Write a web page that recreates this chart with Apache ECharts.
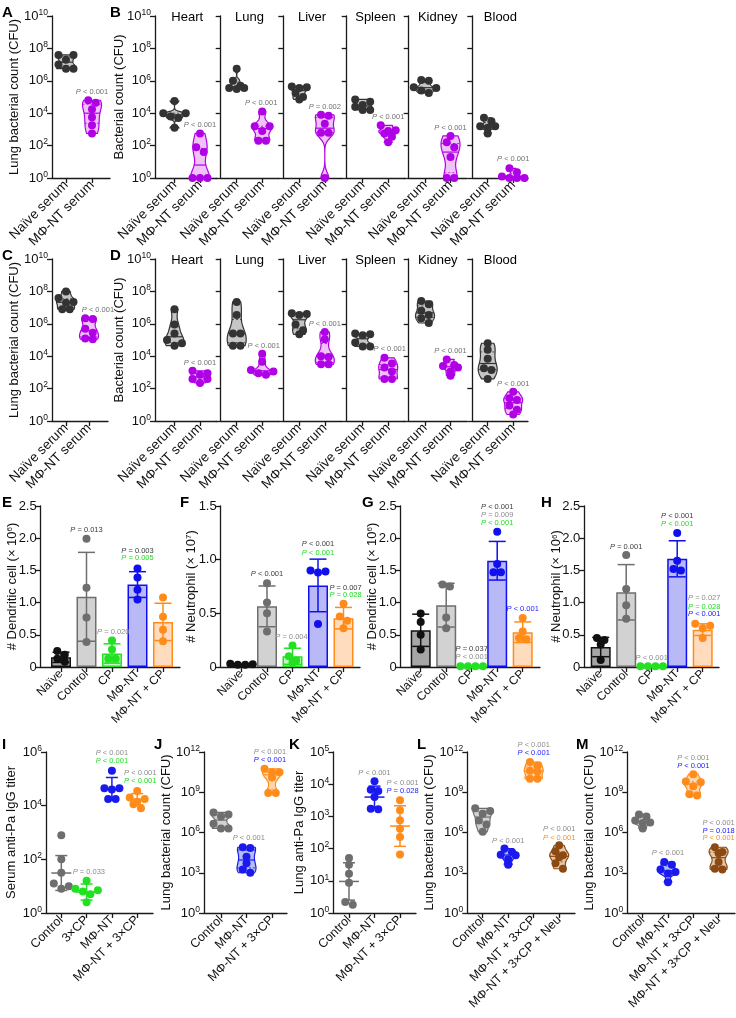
<!DOCTYPE html>
<html><head><meta charset="utf-8">
<script src="https://cdn.jsdelivr.net/npm/echarts@6/dist/echarts.min.js"></script>
<style>html,body{margin:0;padding:0;background:#fff}#c{width:736px;height:1018px}</style>
</head><body><div id="c"></div>
<script>
// ---------------- DATA (CFU / titer values as log10 exponents) ----------------
const organs = ['Heart','Lung','Liver','Spleen','Kidney','Blood'];
const serumCats = ['Naïve serum','MΦ-NT serum'];
const A_naive = [7.6, 7.6, 7.3, 7.0, 6.75, 6.75];
const A_mnt = [4.8, 4.65, 4.25, 3.75, 3.25, 2.75];
const B_naive = [
  [4.75, 4.0, 4.0, 3.8, 3.7, 3.1],
  [6.75, 6.0, 5.7, 5.55, 5.55, 5.5],
  [5.65, 5.6, 5.55, 5.25, 5.0, 4.85],
  [4.85, 4.7, 4.5, 4.4, 4.2, 4.2],
  [6.05, 6.0, 5.6, 5.55, 5.4, 5.25],
  [3.72, 3.5, 3.2, 3.2, 3.1, 2.75]
];
const B_mnt = [
  [2.75, 1.9, 1.6, 0, 0, 0],
  [4.1, 3.2, 3.2, 2.9, 2.3, 2.3],
  [3.9, 3.85, 3.35, 2.8, 2.8, 0],
  [3.25, 2.95, 2.9, 2.75, 2.55, 2.2],
  [2.6, 2.2, 1.9, 1.3, 0, 0],
  [0.6, 0.35, 0.1, 0, 0, 0]
];
const C_naive = [8.0, 7.6, 7.35, 7.3, 6.9, 6.9];
const C_mnt = [6.35, 6.3, 5.7, 5.45, 5.1, 5.05];
const D_naive = [
  [6.9, 5.95, 5.4, 5.0, 4.8, 4.65],
  [7.35, 6.55, 5.4, 5.4, 4.65, 4.65],
  [6.65, 6.6, 6.55, 5.95, 5.6, 5.35],
  [5.4, 5.35, 5.3, 4.85, 4.6, 4.6],
  [7.4, 7.2, 6.8, 6.55, 6.35, 6.05],
  [4.8, 4.4, 3.85, 3.25, 3.15, 2.6]
];
const D_mnt = [
  [3.1, 2.95, 2.85, 2.6, 2.6, 2.35],
  [4.15, 3.65, 3.15, 3.05, 2.95, 2.85],
  [5.5, 5.05, 4.0, 3.95, 3.5, 3.5],
  [3.9, 3.55, 3.3, 3.05, 2.6, 2.6],
  [3.8, 3.45, 3.4, 3.3, 3.05, 2.8],
  [1.8, 1.4, 1.3, 0.95, 0.7, 0.4]
];
const barCats = ['Naïve','Control','CP','MΦ-NT','MΦ-NT + CP'];
const E_mean = [0.15, 1.09, 0.21, 1.28, 0.70];
const E_sd = [0.08, 0.69, 0.15, 0.20, 0.29];
const E_pts = [[0.25,0.19,0.13,0.08],[1.99,1.23,0.77,0.39],[0.41,0.27,0.13,0.13],[1.53,1.39,1.2,1.05],[1.08,0.78,0.58,0.40]];
const F_mean = [0.02, 0.565, 0.10, 0.76, 0.455];
const F_sd = [0.005, 0.19, 0.075, 0.245, 0.1];
const F_pts = [[0.03,0.025,0.02,0.02],[0.78,0.6,0.5,0.33],[0.2,0.1,0.06,0.04],[0.9,0.89,0.88,0.4],[0.59,0.47,0.43,0.36]];
const G_mean = [0.57, 0.96, 0.01, 1.65, 0.54];
const G_sd = [0.25, 0.34, 0.005, 0.30, 0.16];
const G_pts = [[0.83,0.7,0.5,0.27],[1.28,1.25,0.77,0.6],[0.01,0.01,0.01,0.01],[2.1,1.6,1.47,1.47],[0.76,0.55,0.45,0.43]];
const H_mean = [0.31, 1.16, 0.01, 1.68, 0.58];
const H_sd = [0.15, 0.43, 0.005, 0.28, 0.09];
const H_pts = [[0.45,0.42,0.35,0.11],[1.74,1.21,0.96,0.75],[0.01,0.01,0.01,0.01],[2.08,1.65,1.52,1.5],[0.67,0.64,0.6,0.45]];
const I_cats = ['Control','3×CP','MΦ-NT','MΦ-NT + 3×CP'];
const I_vals = [[2.9,2.0,1.5,1.1,1.0,0.9],[1.2,0.9,0.85,0.8,0.7,0.4],[5.3,4.65,4.65,4.6,4.25,4.25],[4.55,4.3,4.25,4.15,4.05,3.9]];
const I_mean = [1.49, 0.78, 4.63, 4.24];
const I_sd = [0.65, 0.30, 0.42, 0.21];
const JK_cats = ['Control','MΦ-NT','MΦ-NT + 3×CP'];
const J_vals = [[7.5,7.35,7.2,6.65,6.3,6.3],[4.9,4.85,4.2,3.7,3.25,3.0],[10.75,10.5,10.5,10.1,8.95,8.95]];
const K_vals = [[1.71,1.5,1.22,0.94,0.34,0.26],[4.09,3.83,3.79,3.6,3.24,3.22],[3.5,3.19,2.88,2.62,2.36,1.82]];
const K_mean = [0.98, 3.6, 2.7];
const K_sd = [0.58, 0.34, 0.63];
const LM_cats = ['Control','MΦ-NT','MΦ-NT + 3×CP','MΦ-NT + 3×CP + Neu'];
const L_vals = [[7.8,7.6,7.4,6.9,6.6,6.05],[4.8,4.55,4.35,4.3,4.0,3.6],[11.25,11.0,10.6,10.55,10.0,10.0],[5.05,4.6,4.3,4.15,3.7,3.3]];
const M_vals = [[7.35,7.2,6.9,6.75,6.7,6.3],[3.8,3.6,3.25,3.05,2.95,2.3],[10.35,9.8,9.75,9.45,8.85,8.75],[4.9,4.55,4.45,3.8,3.3,3.25]];

// ---------------- STYLE ----------------
const FONT = '"Liberation Sans", Arial, Helvetica, sans-serif';
const AX = '#1a1a1a';
const PG = '#707070', PDARK = '#3a3a3a', PGRAY = '#8c8c8c', PGREEN = '#22dd22', PBLUE = '#1a1aff', PORANGE = '#ff8c1a';
const VNAIVE = {color:'#333333', fill:'#c6c6c6'};
const VMNT = {color:'#b000e6', fill:'#f0c2f7'};
const VCTRL = {color:'#6e6e6e', fill:'#d2d2d2'};
const VBLUE = {color:'#1a1aee', fill:'#b5bdf4'};
const VORANGE = {color:'#ff8c1a', fill:'#ffd7ae'};
const VBROWN = {color:'#8c4a12', fill:'#e3c7aa'};
const VGREEN = {color:'#22e022', fill:'#c4f5be'};
const BARC = [{color:'#111111', fill:'#a6a6a6'}, VCTRL, VGREEN, {color:'#1010ee', fill:'#b9b9f7'}, {color:'#ff8c1a', fill:'#ffdcbd'}];

const grids = [], xAxes = [], yAxes = [], series = [], graphic = [];
const logRich = {b:{fontSize:13, fontFamily:FONT, color:'#111', lineHeight:16}, s:{fontSize:8.5, fontFamily:FONT, color:'#111', verticalAlign:'top', lineHeight:9}};
function logFmt(v){ return '{b|10}{s|' + Math.round(v) + '}'; }
function linFmt(v){ return v === 0 ? '0' : v.toFixed(1); }

function panel(o){
  const gi = grids.length;
  grids.push({left:o.left, top:o.top, width:o.right - o.left, height:o.height});
  const idxs = o.cats.map((_, i) => i);
  xAxes.push({gridIndex:gi, type:'value', min:(o.left - o.c0) / o.step, max:(o.right - o.c0) / o.step,
    axisLine:{show:true, onZero:false, lineStyle:{color:AX, width:1.3}},
    axisTick:{show:true, customValues:idxs, length:5, lineStyle:{color:AX, width:1.3}},
    axisLabel:{show:true, customValues:idxs, hideOverlap:false,
      formatter:(v) => o.cats[Math.round(v)], rotate:45, fontSize:o.xfs || 12, fontFamily:FONT, color:'#111', margin:5},
    splitLine:{show:false}});
  const y = {gridIndex:gi, type:'value', min:o.ymin, max:o.ymax, interval:o.yint,
    axisLine:{show:true, onZero:false, lineStyle:{color:AX, width:1.3}},
    axisTick:{show:true, length:5, lineStyle:{color:AX, width:1.3}},
    axisLabel:{show:o.ylabels !== false, fontSize:13, fontFamily:FONT, color:'#111', margin:4, showMinLabel:true, showMaxLabel:true,
      formatter:o.log ? logFmt : linFmt, rich:o.log ? logRich : undefined},
    splitLine:{show:false}};
  if (o.name) {
    Object.assign(y, {name:o.name, nameLocation:'middle', nameRotate:90, nameGap:o.nameGap, nameMoveOverlap:false,
      nameTextStyle:{fontSize:13, fontFamily:FONT, color:'#111', rich:{s:{fontSize:8, fontFamily:FONT, color:'#111', verticalAlign:'top'}}}});
  }
  yAxes.push(y);
  return gi;
}

function quantile(s, p){ const pos = (s.length - 1) * p; const lo = Math.floor(pos), hi = Math.ceil(pos); return s[lo] + (s[hi] - s[lo]) * (pos - lo); }
function offsetsFor(n){
  return [[0],[-0.5,0.5],[-1,1,0],[-1.5,1.5,-0.5,0.5],[-2,2,-1,1,0],[-2.5,2.5,-1.5,1.5,-0.5,0.5]][n - 1];
}
function swarm(vals, api, xi){
  const s = 7.5, thr = 6;
  const pts = vals.map(v => ({v:v, p:api.coord([xi, v])})).sort((a, b) => b.v - a.v);
  const rows = []; let cur = null;
  for (const q of pts) { if (cur && Math.abs(q.p[1] - cur[0].p[1]) < thr) cur.push(q); else { cur = [q]; rows.push(cur); } }
  const out = [];
  rows.forEach(r => { const off = offsetsFor(r.length); r.forEach((q, k) => out.push([q.p[0] + off[k] * s, q.p[1]])); });
  return out;
}
function kde(vals, y, h){ let s = 0; for (const v of vals) { const z = (y - v) / h; s += Math.exp(-0.5 * z * z); } return s; }
function violinShape(vals, api, xi, halfW){
  const n = vals.length, mn = Math.min(...vals), mx = Math.max(...vals);
  const mean = vals.reduce((a, b) => a + b, 0) / n;
  const sd = Math.sqrt(vals.reduce((a, b) => a + (b - mean) * (b - mean), 0) / (n - 1));
  const srt = [...vals].sort((a, b) => a - b);
  const iqr = quantile(srt, 0.75) - quantile(srt, 0.25);
  const spread = iqr > 0 ? Math.min(sd, iqr / 1.34) : sd;
  const h = Math.max(0.8 * 0.9 * spread * Math.pow(n, -0.2), 0.08);
  const N = 48, ys = [], ds = [];
  for (let k = 0; k <= N; k++) { const y = mn + (mx - mn) * k / N; ys.push(y); ds.push(kde(vals, y, h)); }
  const dmax = Math.max(...ds);
  const L = [], R = [];
  ys.forEach((y, k) => { const p = api.coord([xi, y]); const w = halfW * ds[k] / dmax; L.push([p[0] - w, p[1]]); R.push([p[0] + w, p[1]]); });
  return {points:L.concat(R.reverse()), widthAt:(y) => halfW * kde(vals, y, h) / dmax};
}

function violins(gi, groups){
  series.push({type:'custom', xAxisIndex:gi, yAxisIndex:gi, clip:false, silent:true, z:3,
    data:groups.map((g, i) => [i, g.vals[0]]), encode:{x:0, y:1},
    renderItem:(params, api) => {
      const xi = params.dataIndex, g = groups[xi], ch = [];
      const vs = violinShape(g.vals, api, xi, 9.5);
      ch.push({type:'polygon', shape:{points:vs.points}, style:{fill:g.fill, stroke:g.color, lineWidth:1.2}});
      const srt = [...g.vals].sort((a, b) => a - b);
      [[0.25, true], [0.5, false], [0.75, true]].forEach(([p, dash]) => {
        const v = quantile(srt, p), c = api.coord([xi, v]), w = vs.widthAt(v);
        ch.push({type:'line', shape:{x1:c[0] - w, y1:c[1], x2:c[0] + w, y2:c[1]},
          style:{stroke:g.color, lineWidth:dash ? 0.8 : 1.2, lineDash:dash ? [2, 2] : null}});
      });
      swarm(g.vals, api, xi).forEach(p => ch.push({type:'circle', shape:{cx:p[0], cy:p[1], r:4}, style:{fill:g.color}}));
      return {type:'group', children:ch};
    }});
}

function dots(gi, groups, means, sds){
  series.push({type:'custom', xAxisIndex:gi, yAxisIndex:gi, clip:false, silent:true, z:3,
    data:groups.map((g, i) => [i, means[i]]), encode:{x:0, y:1},
    renderItem:(params, api) => {
      const xi = params.dataIndex, g = groups[xi], ch = [];
      swarm(g.vals, api, xi).forEach(p => ch.push({type:'circle', shape:{cx:p[0], cy:p[1], r:4}, style:{fill:g.color}}));
      const m = api.coord([xi, means[xi]]), hi = api.coord([xi, means[xi] + sds[xi]]), lo = api.coord([xi, means[xi] - sds[xi]]);
      const st = {stroke:g.color, lineWidth:1.5};
      ch.push({type:'line', shape:{x1:m[0] - 10, y1:m[1], x2:m[0] + 10, y2:m[1]}, style:st});
      ch.push({type:'line', shape:{x1:m[0], y1:hi[1], x2:m[0], y2:lo[1]}, style:st});
      ch.push({type:'line', shape:{x1:m[0] - 6, y1:hi[1], x2:m[0] + 6, y2:hi[1]}, style:st});
      ch.push({type:'line', shape:{x1:m[0] - 6, y1:lo[1], x2:m[0] + 6, y2:lo[1]}, style:st});
      return {type:'group', children:ch};
    }});
}

function bars(gi, means, sds, pts){
  series.push({type:'bar', xAxisIndex:gi, yAxisIndex:gi, barWidth:20, z:2, silent:true, animation:false,
    data:means.map((m, i) => ({value:[i, m], itemStyle:{color:BARC[i].fill, borderColor:BARC[i].color, borderWidth:1.5}}))});
  series.push({type:'custom', xAxisIndex:gi, yAxisIndex:gi, clip:false, silent:true, z:4,
    data:means.map((m, i) => [i, m]), encode:{x:0, y:1},
    renderItem:(params, api) => {
      const xi = params.dataIndex, col = BARC[xi].color, ch = [];
      const m = api.coord([xi, means[xi]]), hi = api.coord([xi, means[xi] + sds[xi]]), lo = api.coord([xi, Math.max(0, means[xi] - sds[xi])]);
      const st = {stroke:col, lineWidth:1.5};
      ch.push({type:'line', shape:{x1:m[0], y1:hi[1], x2:m[0], y2:lo[1]}, style:st});
      ch.push({type:'line', shape:{x1:m[0] - 8.5, y1:hi[1], x2:m[0] + 8.5, y2:hi[1]}, style:st});
      ch.push({type:'line', shape:{x1:m[0] - 8.5, y1:lo[1], x2:m[0] + 8.5, y2:lo[1]}, style:st});
      swarm(pts[xi], api, xi).forEach(p => ch.push({type:'circle', shape:{cx:p[0], cy:p[1], r:4}, style:{fill:col}}));
      return {type:'group', children:ch};
    }});
}

function notes(gi, list){
  series.push({type:'custom', xAxisIndex:gi, yAxisIndex:gi, clip:false, silent:true, z:6,
    data:list.map(n => [n[0], n[1]]), encode:{x:0, y:1},
    renderItem:(params, api) => {
      const n = list[params.dataIndex], c = api.coord([n[0], n[1]]);
      return {type:'text', x:c[0], y:c[1], style:{text:'{i|P} ' + n[2], fill:n[3], fontSize:7.5, fontFamily:FONT,
        align:'center', verticalAlign:'middle', rich:{i:{fontStyle:'italic', fill:n[3], fontSize:7.5, fontFamily:FONT}}}};
    }});
}

function label(t, x, y){ graphic.push({type:'text', left:x, top:y, style:{text:t, font:'bold 15px ' + FONT, fill:'#000'}}); }
function title(t, cx, cy){ graphic.push({type:'text', x:cx, y:cy, style:{text:t, font:'13px ' + FONT, fill:'#000', textAlign:'center', textVerticalAlign:'middle', align:'center', verticalAlign:'middle'}}); }

// ---------------- ROWS 1-2: A/B and C/D ----------------
const subL = [155, 220.7, 283.3, 346.7, 408.7, 472.3];
const subC = [174.5, 236.7, 299.3, 362.7, 425, 487.7];
const subR = [217, 279, 342, 405, 467, 528];
const bNoteY = [3.25, 4.65, 4.4, 3.75, 3.1, 1.15];
const bNoteX = [1, 0.96, 1, 1, 1, 1];
const bNoteT = ['< 0.001', '< 0.001', '= 0.002', '< 0.001', '< 0.001', '< 0.001'];
const dNoteY = [3.6, 4.65, 6.0, 4.42, 4.32, 2.28];
const dNoteX = [1, 1.06, 1, 1.06, 1, 1];

[[16, A_naive, A_mnt, B_naive, B_mnt, 'A', 'B', 66, 26, 110, [1, 5.3]], [259, C_naive, C_mnt, D_naive, D_mnt, 'C', 'D', 66, 23, 108, [1.39, 6.85]]].forEach((row, r) => {
  const top = row[0];
  const ga = panel({left:52, right:row[9], c0:row[7], step:row[8], top:top, height:162, cats:serumCats, ymin:0, ymax:10, yint:2, log:true, name:'Lung bacterial count (CFU)', nameGap:31, xfs:13.5});
  violins(ga, [Object.assign({vals:row[1]}, VNAIVE), Object.assign({vals:row[2]}, VMNT)]);
  notes(ga, [[row[10][0], row[10][1], '< 0.001', PG]]);
  for (let k = 0; k < 6; k++) {
    const g = panel({left:subL[k], right:subR[k], c0:subC[k], step:25.5, top:top, height:162, cats:serumCats, ymin:0, ymax:10, yint:2, log:true,
      ylabels:k === 0, name:k === 0 ? 'Bacterial count (CFU)' : null, nameGap:29, xfs:13.5});
    violins(g, [Object.assign({vals:row[3][k]}, VNAIVE), Object.assign({vals:row[4][k]}, VMNT)]);
    if (r === 0) notes(g, [[bNoteX[k], bNoteY[k], bNoteT[k], PG]]);
    else notes(g, [[dNoteX[k], dNoteY[k], '< 0.001', PG]]);
    title(organs[k], subC[k] + 12.75, top + 1);
  }
  label(row[5], 2, top - 11);
  label(row[6], 110, top - 11);
});

// ---------------- ROW 3: E-H ----------------
const gE = panel({left:40.7, right:180, c0:61, step:25.5, top:506, height:161, cats:barCats, ymin:0, ymax:2.5, yint:0.5, name:'# Dendritic cell (× 10{s|6})', nameGap:22});
bars(gE, E_mean, E_sd, E_pts);
notes(gE, [[1, 2.13, '= 0.013', PDARK], [2.05, 0.54, '= 0.020', PGRAY], [3, 1.8, '= 0.003', PDARK], [3, 1.69, '= 0.005', PGREEN]]);
const gF = panel({left:220.7, right:360, c0:241.5, step:25.5, top:506, height:161, cats:barCats, ymin:0, ymax:1.5, yint:0.5, name:'# Neutrophil (× 10{s|7})', nameGap:23});
bars(gF, F_mean, F_sd, F_pts);
notes(gF, [[1, 0.87, '< 0.001', PDARK], [1.96, 0.28, '= 0.004', PGRAY], [3, 1.15, '< 0.001', PDARK], [3, 1.065, '< 0.001', PGREEN], [4.08, 0.74, '= 0.007', PDARK], [4.08, 0.67, '= 0.028', PGREEN]]);
const gG = panel({left:400.7, right:540, c0:420.7, step:25.5, top:506, height:161, cats:barCats, ymin:0, ymax:2.5, yint:0.5, name:'# Dendritic cell (× 10{s|6})', nameGap:22});
bars(gG, G_mean, G_sd, G_pts);
notes(gG, [[3, 2.49, '< 0.001', PDARK], [3, 2.36, '= 0.009', PGRAY], [3, 2.24, '< 0.001', PGREEN], [2, 0.275, '= 0.037', PDARK], [2, 0.16, '< 0.001', PGRAY], [4, 0.9, '< 0.001', PBLUE]]);
const gH = panel({left:584.3, right:719, c0:600.7, step:25.5, top:506, height:161, cats:barCats, ymin:0, ymax:2.5, yint:0.5, name:'# Neutrophil (× 10{s|6})', nameGap:21});
bars(gH, H_mean, H_sd, H_pts);
notes(gH, [[1, 1.87, '= 0.001', PDARK], [2, 0.135, '< 0.001', PGRAY], [3, 2.34, '< 0.001', PDARK], [3, 2.22, '< 0.001', PGREEN], [4.06, 1.07, '= 0.027', PGRAY], [4.06, 0.94, '= 0.028', PGREEN], [4.06, 0.82, '< 0.001', PBLUE]]);
label('E', 2, 495); label('F', 180, 495); label('G', 362, 495); label('H', 541, 495);

// ---------------- ROW 4: I-M ----------------
const gI = panel({left:46, right:153, c0:61.3, step:25.3, top:752, height:161, cats:I_cats, ymin:0, ymax:6, yint:2, log:true, name:'Serum anti-Pa IgG titer', nameGap:28, xfs:12.5});
dots(gI, [VCTRL, VGREEN, VBLUE, VORANGE].map((c, i) => Object.assign({vals:I_vals[i]}, c)), I_mean, I_sd);
notes(gI, [[2, 5.97, '< 0.001', PGRAY], [2, 5.67, '< 0.001', PGREEN], [3.12, 5.21, '< 0.001', PGRAY], [3.12, 4.92, '< 0.001', PGREEN], [1.09, 1.52, '= 0.033', PGRAY]]);
const gJ = panel({left:204, right:287, c0:221, step:25.5, top:752, height:161, cats:JK_cats, ymin:0, ymax:12, yint:3, log:true, name:'Lung bacterial count (CFU)', nameGap:31, xfs:12.5});
violins(gJ, [VCTRL, VBLUE, VORANGE].map((c, i) => Object.assign({vals:J_vals[i]}, c)));
notes(gJ, [[1.92, 11.97, '< 0.001', PGRAY], [1.92, 11.4, '< 0.001', PBLUE], [1.09, 5.57, '< 0.001', PGRAY]]);
const gK = panel({left:333.3, right:416, c0:349, step:25.5, top:752, height:161, cats:JK_cats, ymin:0, ymax:5, yint:1, log:true, name:'Lung anti-Pa IgG titer', nameGap:27, xfs:12.5});
dots(gK, [VCTRL, VBLUE, VORANGE].map((c, i) => Object.assign({vals:K_vals[i]}, c)), K_mean, K_sd);
notes(gK, [[1, 4.36, '< 0.001', PGRAY], [2.1, 4.05, '< 0.001', PGRAY], [2.1, 3.79, '= 0.028', PBLUE]]);
const gL = panel({left:467.3, right:575, c0:482.7, step:25.5, top:752, height:161, cats:LM_cats, ymin:0, ymax:12, yint:3, log:true, name:'Lung bacterial count (CFU)', nameGap:31, xfs:12.5});
violins(gL, [VCTRL, VBLUE, VORANGE, VBROWN].map((c, i) => Object.assign({vals:L_vals[i]}, c)));
notes(gL, [[2, 12.52, '< 0.001', PGRAY], [2, 11.9, '< 0.001', PBLUE], [1, 5.39, '< 0.001', PGRAY], [3, 6.24, '< 0.001', PGRAY], [3, 5.61, '< 0.001', PORANGE]]);
const gM = panel({left:627.3, right:735, c0:642.7, step:25.3, top:752, height:161, cats:LM_cats, ymin:0, ymax:12, yint:3, log:true, name:'Lung bacterial count (CFU)', nameGap:31, xfs:12.5});
violins(gM, [VCTRL, VBLUE, VORANGE, VBROWN].map((c, i) => Object.assign({vals:M_vals[i]}, c)));
notes(gM, [[2, 11.53, '< 0.001', PGRAY], [2, 10.95, '< 0.001', PBLUE], [1, 4.49, '< 0.001', PGRAY], [3, 6.73, '< 0.001', PGRAY], [3, 6.13, '= 0.018', PBLUE], [3, 5.57, '< 0.001', PORANGE]]);
label('I', 2, 737); label('J', 154, 737); label('K', 289, 737); label('L', 417, 737); label('M', 576, 737);

const chart = echarts.init(document.getElementById('c'), null, {renderer:'canvas'});
chart.setOption({animation:false, backgroundColor:'#fff', grid:grids, xAxis:xAxes, yAxis:yAxes, series:series, graphic:graphic});
</script></body></html>
